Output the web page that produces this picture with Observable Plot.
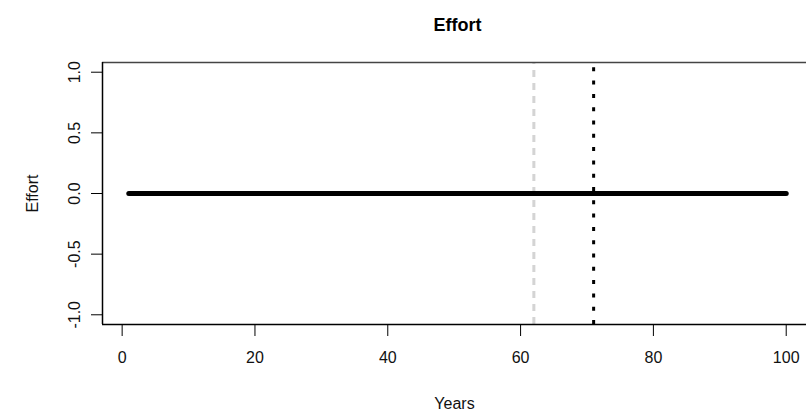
<!DOCTYPE html>
<html>
<head>
<meta charset="utf-8">
<script src="https://cdn.jsdelivr.net/npm/d3@7"></script>
<script src="https://cdn.jsdelivr.net/npm/@observablehq/plot@0.6"></script>
<style>
  html, body { margin: 0; padding: 0; background: #fff; }
  svg { font-family: "Liberation Sans Narrow", "Arial Narrow", "Liberation Sans", Arial, sans-serif; }
</style>
</head>
<body>
<div id="chart"></div>
<script>
const title = "Effort";
const xLabel = "Years";
const yLabel = "Effort";
const years = [1,2,3,4,5,6,7,8,9,10,11,12,13,14,15,16,17,18,19,20,
  21,22,23,24,25,26,27,28,29,30,31,32,33,34,35,36,37,38,39,40,
  41,42,43,44,45,46,47,48,49,50,51,52,53,54,55,56,57,58,59,60,
  61,62,63,64,65,66,67,68,69,70,71,72,73,74,75,76,77,78,79,80,
  81,82,83,84,85,86,87,88,89,90,91,92,93,94,95,96,97,98,99,100];
const effort = [0,0,0,0,0,0,0,0,0,0,0,0,0,0,0,0,0,0,0,0,
  0,0,0,0,0,0,0,0,0,0,0,0,0,0,0,0,0,0,0,0,
  0,0,0,0,0,0,0,0,0,0,0,0,0,0,0,0,0,0,0,0,
  0,0,0,0,0,0,0,0,0,0,0,0,0,0,0,0,0,0,0,0,
  0,0,0,0,0,0,0,0,0,0,0,0,0,0,0,0,0,0,0,0];
const xTicks = [0, 20, 40, 60, 80, 100];
const yTicks = [-1, -0.5, 0, 0.5, 1];
const xDomain = [-2.96, 103.96];
const yDomain = [-1.08, 1.08];
const refYearGray = [62];
const refYearBlack = [71];

const series = years.map((y, i) => ({year: y, effort: effort[i]}));

const chart = Plot.plot({
  width: 806,
  height: 414,
  marginLeft: 102,
  marginRight: 0,
  marginTop: 62,
  marginBottom: 90,
  style: {fontSize: "16px", color: "#111", background: "#fff"},
  x: {domain: xDomain, range: [102, 812]},
  y: {domain: yDomain},
  marks: [
    Plot.ruleX(refYearGray, {y1: yDomain[0], y2: yDomain[1], stroke: "#d4d4d4", strokeWidth: 3, strokeDasharray: "7,6"}),
    Plot.ruleX(refYearBlack, {y1: yDomain[0], y2: yDomain[1], stroke: "#000", strokeWidth: 3, strokeDasharray: "4,9.3"}),
    Plot.line(series, {x: "year", y: "effort", stroke: "#000", strokeWidth: 5, strokeLinecap: "round"}),
    Plot.ruleY([yDomain[1]], {stroke: "#444", strokeWidth: 1.5}),
    Plot.ruleY([yDomain[0]], {stroke: "#000", strokeWidth: 1.5}),
    Plot.ruleX([xDomain[0]], {y1: yDomain[0], y2: yDomain[1], stroke: "#000", strokeWidth: 1.5}),
    Plot.axisX({ticks: xTicks, tickSize: 12, tickPadding: 15, tickFormat: d => String(d),
      label: xLabel, labelAnchor: "center", labelArrow: "none", labelOffset: 84, stroke: "#000"}),
    Plot.axisY({ticks: yTicks, tickSize: 11, tickPadding: 12, tickRotate: -90, tickFormat: d => d.toFixed(1),
      label: yLabel, labelAnchor: "center", labelArrow: "none", labelOffset: 76, stroke: "#000"}),
    Plot.text([title], {frameAnchor: "top", dx: 3, dy: -44, fontWeight: "bold", fontSize: 18, fill: "#000"})
  ]
});
document.getElementById("chart").appendChild(chart);
</script>
</body>
</html>
